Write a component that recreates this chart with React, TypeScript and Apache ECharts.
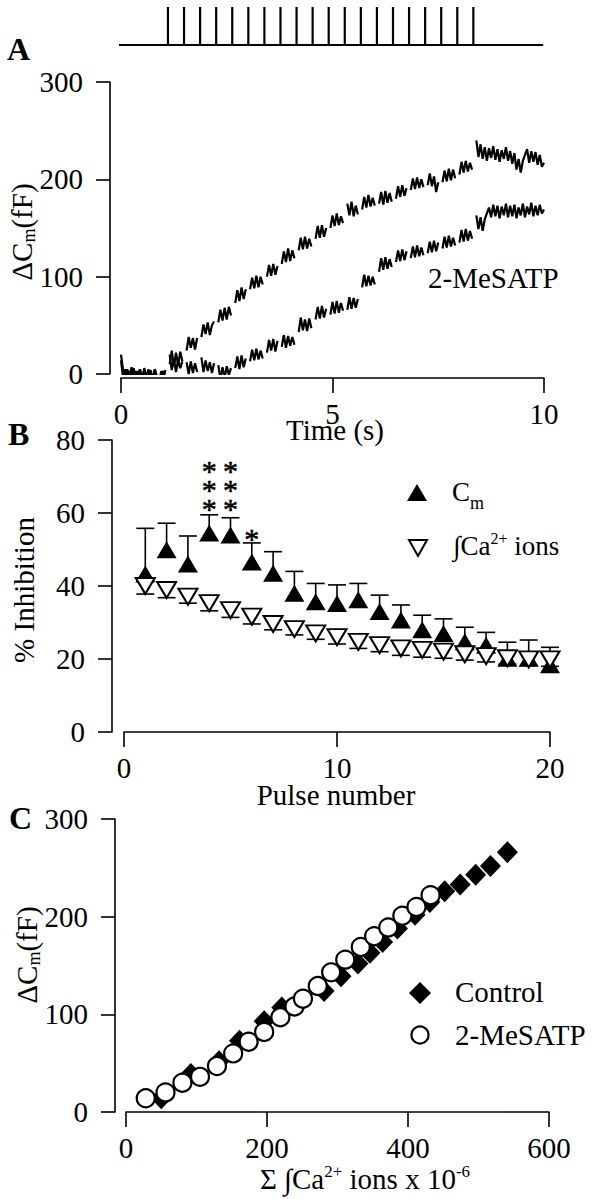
import React, { useEffect, useRef } from "react";
import * as echarts from "echarts";

const FONT = '"Liberation Serif", "Times New Roman", "DejaVu Serif", serif';

// ---------- Panel A: stimulus train and capacitance traces ----------
const pulseTimes = [1.11, 1.49, 1.87, 2.25, 2.63, 3.01, 3.39, 3.77, 4.15, 4.53, 4.91, 5.29, 5.67, 6.05, 6.43, 6.81, 7.19, 7.57, 7.95, 8.33];
const pulseBaseStart = -0.07;
const pulseBaseEnd = 9.98;
const TRACE_DT = 0.05; // sampling step (s) of the traces below

// Control trace (upper), fF, one value per 0.05 s, null = gap during pulse
const controlTrace: (number | null)[] = [
  20, 4, -6, 5, -5, 7, -3, 3, -7, 5,
  -5, 6, -2, -8, 4, -6, 5, -3, -9, 3,
  -6, 4, null, 10, 24, 8, 22, 9, 23, 13,
  null, 24, 38, 27, 37, 25, 37, null, 38, 51,
  41, 53, 40, 50, 54, null, 53, 66, 55, 68,
  56, 69, 60, null, 73, 86, 75, 89, 77, 87,
  null, 87, 99, 88, 101, 89, 100, 92, null, 100,
  112, 101, 113, 102, 111, null, 113, 126, 115, 129,
  116, 127, 119, null, 127, 140, 128, 141, 129, 139,
  131, null, 139, 152, 140, 153, 141, 150, null, 150,
  163, 152, 165, 153, 162, 155, null, 175, 163, 177,
  162, 173, 164, null, 169, 182, 171, 184, 172, 181,
  173, null, 175, 187, 174, 188, 176, 186, 177, null,
  180, 193, 182, 194, 183, 191, null, 189, 201, 190,
  202, 191, 200, 192, null, 194, 206, 193, 203, 187,
  197, null, 197, 209, 198, 211, 199, 210, 201, null,
  205, 218, 207, 219, 208, 217, 210, null, 240, 223,
  236, 221, 233, 219, 232, 222, 234, 220, 231, 218,
  230, 221, 233, 219, 229, 216, 227, 210, 221, 207,
  219, 225, 231, 217, 229, 218, 228, 215, 225, 213,
  217,
];

// 2-MeSATP trace (lower)
const mesatpTrace: (number | null)[] = [
  14, -4, 5, -7, 3, -5, 6, -8, 2, 4,
  -7, 3, -4, 5, -8, -3, 4, -6, -10, 0,
  3, -7, null, 20, 4, 16, 2, 14, 6, 13,
  null, 12, 0, 13, 1, 11, 2, null, 17, 2,
  14, 3, 12, 1, 11, null, 9, -5, 7, -4,
  8, -1, 6, null, 6, 18, 5, 19, 7, 16,
  null, 13, 25, 14, 26, 15, 24, 16, null, 22,
  35, 24, 36, 23, 34, null, 28, 40, 27, 39,
  29, 38, 30, null, 43, 58, 45, 56, 44, 57,
  47, null, 56, 69, 57, 70, 58, 67, null, 61,
  74, 62, 75, 63, 73, 65, null, 66, 79, 67,
  78, 68, 77, null, 89, 102, 90, 101, 91, 100,
  92, null, 105, 119, 107, 120, 108, 118, 110, null,
  115, 127, 116, 128, 117, 126, null, 119, 131, 120,
  132, 121, 130, 122, null, 124, 136, 125, 137, 126,
  135, null, 129, 141, 130, 142, 131, 140, 132, null,
  135, 148, 136, 149, 137, 147, 139, null, 163, 149,
  161, 147, 159, 165, 171, 161, 174, 162, 173, 160,
  172, 163, 175, 161, 173, 162, 174, 160, 171, 163,
  175, 161, 172, 164, 176, 162, 173, 163, 174, 165,
  169,
];

// ---------- Panel B: % inhibition per pulse ----------
const pulseNumbers = [1, 2, 3, 4, 5, 6, 7, 8, 9, 10, 11, 12, 13, 14, 15, 16, 17, 18, 19, 20];
const cmInhibition = [43.3, 49.9, 46, 54.5, 54, 46.6, 43.5, 38, 35.7, 35.2, 36.2, 33, 30.7, 28, 27, 24.7, 23.8, 20.2, 20.2, 18.4];
const cmUpperErr = [55.8, 57.2, 53.7, 59.5, 58.7, 51.8, 49.4, 44, 40.7, 40.3, 40.7, 37.5, 34.8, 32, 31, 28.7, 27.3, 24.6, 25.2, 23.2];
const caInhibition = [40, 38.9, 37.1, 35.3, 33.4, 31.6, 29.6, 28.2, 27, 26, 24.7, 23.8, 22.9, 22.5, 22, 21.3, 20.8, 20.2, 19.9, 19.9];
const caLowerErr = [37.8, 36.8, 35.3, 33.2, 31.4, 29.6, 28, 26.6, 25.4, 24.1, 22.9, 22, 21, 20.5, 20.2, 19.7, 19.2, 18.6, 18.2, 18];
// significance marks: pulse, centre level of the stack, number of asterisks
const starPulse = [4, 5, 6];
const starCentre = [67.7, 67.7, 54.5];
const starCount = [3, 3, 1];

// ---------- Panel C: dCm vs cumulative Ca2+ ions ----------
const controlCa = [50, 92, 132, 161, 196, 221, 250, 281, 305, 329, 346, 364, 385, 410, 431, 452, 474, 496, 517, 541];
const controlCm = [14, 39, 52, 73, 93, 107, 115, 124, 139, 152, 163, 174, 188, 202, 215, 226, 233, 243, 252, 266];
const mesatpCa = [28, 56, 80, 105, 129, 152, 174, 196, 219, 239, 251, 272, 291, 311, 333, 352, 372, 392, 412, 432];
const mesatpCm = [14, 20, 30, 36, 47, 60, 72, 82, 97, 108, 116, 129, 143, 156, 169, 180, 189, 201, 210, 222];

const BLACK = "#000";

function axisX(gridIndex: number, min: number, max: number, interval: number, offset: number) {
  return {
    type: "value",
    gridIndex,
    min,
    max,
    interval,
    offset,
    axisLine: { onZero: false, lineStyle: { color: BLACK, width: 1.6 } },
    axisTick: { inside: false, length: 15, lineStyle: { color: BLACK, width: 1.6 } },
    axisLabel: { margin: 21, color: BLACK, fontFamily: FONT, fontSize: 29 },
    splitLine: { show: false },
  };
}

function axisY(gridIndex: number, min: number, max: number, interval: number, offset: number) {
  return {
    type: "value",
    gridIndex,
    min,
    max,
    interval,
    offset,
    axisLine: { onZero: false, lineStyle: { color: BLACK, width: 1.6 } },
    axisTick: { inside: false, length: 14, lineStyle: { color: BLACK, width: 1.6 } },
    axisLabel: { margin: 27, color: BLACK, fontFamily: FONT, fontSize: 29, padding: [0, 0, 9, 0] },
    splitLine: { show: false },
  };
}

function text(x: number, y: number, str: string, o: any = {}) {
  const size = o.size ?? 29;
  const align = o.align ?? "center";
  return {
    type: "text",
    x,
    y,
    rotation: o.rotation ?? 0,
    z: 100,
    style: {
      text: str,
      fill: BLACK,
      fontSize: size,
      fontFamily: FONT,
      fontWeight: o.bold ? "bold" : "normal",
      align,
      textAlign: align,
      verticalAlign: "middle",
      textVerticalAlign: "middle",
      rich: o.rich,
    },
  };
}

const mainTok = (size: number, lh: number) => ({ fontSize: size, fontFamily: FONT, fill: BLACK, color: BLACK, lineHeight: lh });
const subTok = (size: number, lh: number) => ({ fontSize: size, fontFamily: FONT, fill: BLACK, color: BLACK, lineHeight: lh, verticalAlign: "bottom" });
const supTok = (size: number, lh: number) => ({ fontSize: size, fontFamily: FONT, fill: BLACK, color: BLACK, lineHeight: lh, verticalAlign: "top" });

function errBarItem() {
  return (params: any, api: any) => {
    const x = api.value(0);
    const p0 = api.coord([x, api.value(1)]);
    const p1 = api.coord([x, api.value(2)]);
    const half = 9;
    return {
      type: "group",
      children: [
        { type: "line", shape: { x1: p0[0], y1: p0[1], x2: p1[0], y2: p1[1] }, style: { stroke: BLACK, lineWidth: 1.6 } },
        { type: "line", shape: { x1: p1[0] - half, y1: p1[1], x2: p1[0] + half, y2: p1[1] }, style: { stroke: BLACK, lineWidth: 1.6 } },
      ],
    };
  };
}

function starItem(params: any, api: any) {
  const p = api.coord([api.value(0), api.value(1)]);
  const n = api.value(2);
  const marks: string[] = [];
  for (let k = 0; k < n; k++) marks.push("*");
  return {
    type: "text",
    x: p[0],
    y: p[1] + 5,
    style: {
      text: marks.join("\n"),
      fill: BLACK,
      stroke: BLACK,
      lineWidth: 0.6,
      fontSize: 30,
      fontFamily: FONT,
      lineHeight: 19,
      align: "center",
      verticalAlign: "middle",
    },
  };
}

function buildOption() {
  const pulseData: number[][] = [[pulseBaseStart, 0]];
  pulseTimes.forEach((t) => {
    pulseData.push([t, 0], [t, 1], [t, 0]);
  });
  pulseData.push([pulseBaseEnd, 0]);

  const traceData = (arr: (number | null)[]) => arr.map((v, i) => [Math.round(i * TRACE_DT * 100) / 100, v]);

  const dCmRich = { m: mainTok(29, 32), s: subTok(18, 18) };

  return {
    animation: false,
    backgroundColor: "#fff",
    grid: [
      { left: 121, right: 50, top: 7, height: 38 },
      { left: 121, right: 50, top: 82, height: 292 },
      { left: 124, right: 44, top: 440, height: 292 },
      { left: 126, right: 45, top: 819, height: 293 },
    ],
    xAxis: [
      { type: "value", gridIndex: 0, min: 0, max: 10, show: false },
      axisX(1, 0, 10, 5, 4),
      axisX(2, 0, 20, 10, 0),
      axisX(3, 0, 600, 200, 0),
    ],
    yAxis: [
      { type: "value", gridIndex: 0, min: 0, max: 1, show: false },
      axisY(1, 0, 300, 100, 11),
      axisY(2, 0, 80, 20, 12),
      axisY(3, 0, 300, 100, 11),
    ],
    series: [
      {
        name: "stimulus",
        type: "line",
        xAxisIndex: 0,
        yAxisIndex: 0,
        data: pulseData,
        symbol: "none",
        clip: false,
        lineStyle: { color: BLACK, width: 2.2 },
      },
      {
        name: "Control trace",
        type: "line",
        xAxisIndex: 1,
        yAxisIndex: 1,
        data: traceData(controlTrace),
        symbol: "none",
        connectNulls: false,
        lineStyle: { color: BLACK, width: 2.2 },
      },
      {
        name: "2-MeSATP trace",
        type: "line",
        xAxisIndex: 1,
        yAxisIndex: 1,
        data: traceData(mesatpTrace),
        symbol: "none",
        connectNulls: false,
        lineStyle: { color: BLACK, width: 2.2 },
      },
      {
        name: "Cm err",
        type: "custom",
        xAxisIndex: 2,
        yAxisIndex: 2,
        data: pulseNumbers.map((p, i) => [p, cmInhibition[i], cmUpperErr[i]]),
        encode: { x: 0, y: [1, 2] },
        renderItem: errBarItem(),
        z: 2,
      },
      {
        name: "Ca err",
        type: "custom",
        xAxisIndex: 2,
        yAxisIndex: 2,
        data: pulseNumbers.map((p, i) => [p, caInhibition[i], caLowerErr[i]]),
        encode: { x: 0, y: [1, 2] },
        renderItem: errBarItem(),
        z: 2,
      },
      {
        name: "Cm",
        type: "scatter",
        xAxisIndex: 2,
        yAxisIndex: 2,
        data: pulseNumbers.map((p, i) => [p, cmInhibition[i]]),
        symbol: "triangle",
        symbolSize: [20, 17],
        itemStyle: { color: BLACK, opacity: 1 },
        z: 3,
      },
      {
        name: "Ca ions",
        type: "scatter",
        xAxisIndex: 2,
        yAxisIndex: 2,
        data: pulseNumbers.map((p, i) => [p, caInhibition[i]]),
        symbol: "triangle",
        symbolRotate: 180,
        symbolSize: [19, 16],
        itemStyle: { color: "#fff", borderColor: BLACK, borderWidth: 2, opacity: 1 },
        z: 4,
      },
      {
        name: "significance",
        type: "custom",
        xAxisIndex: 2,
        yAxisIndex: 2,
        data: starPulse.map((p, i) => [p, starCentre[i], starCount[i]]),
        encode: { x: 0, y: 1 },
        renderItem: starItem,
        z: 5,
      },
      {
        name: "Control",
        type: "scatter",
        xAxisIndex: 3,
        yAxisIndex: 3,
        data: controlCa.map((x, i) => [x, controlCm[i]]),
        symbol: "diamond",
        symbolSize: [21, 22],
        itemStyle: { color: BLACK, opacity: 1 },
        z: 3,
      },
      {
        name: "2-MeSATP",
        type: "scatter",
        xAxisIndex: 3,
        yAxisIndex: 3,
        data: mesatpCa.map((x, i) => [x, mesatpCm[i]]),
        symbol: "circle",
        symbolSize: 18,
        itemStyle: { color: "#fff", borderColor: BLACK, borderWidth: 2.2, opacity: 1 },
        z: 4,
      },
    ],
    graphic: [
      // panel letters
      text(7, 49, "A", { size: 32, bold: true, align: "left" }),
      text(8, 434, "B", { size: 32, bold: true, align: "left" }),
      text(9, 818, "C", { size: 32, bold: true, align: "left" }),
      // panel A
      text(22, 232, "{m|ΔC}{s|m}{m|(fF)}", { rotation: Math.PI / 2, rich: dCmRich }),
      text(335, 430, "Time (s)"),
      text(428, 278, "2-MeSATP", { align: "left" }),
      // panel B
      text(24, 590, "% Inhibition", { rotation: Math.PI / 2 }),
      text(336, 795, "Pulse number"),
      { type: "polygon", z: 100, shape: { points: [[417, 484], [427, 501], [407, 501]] }, style: { fill: BLACK } },
      text(452, 492, "{m|C}{s|m}", { align: "left", rich: { m: mainTok(27, 40), s: subTok(18, 14) } }),
      { type: "polygon", z: 100, shape: { points: [[409, 540], [427, 540], [418, 556]] }, style: { fill: "#fff", stroke: BLACK, lineWidth: 2 } },
      text(453, 546, "{m|∫Ca}{p|2+}{m| ions}", { align: "left", rich: { m: mainTok(27, 32), p: supTok(16, 20) } }),
      // panel C
      text(27, 955, "{m|ΔC}{s|m}{m|(fF)}", { rotation: Math.PI / 2, rich: dCmRich }),
      text(365, 1179, "{m|Σ ∫Ca}{p|2+}{m| ions x 10}{p|-6}", { rich: { m: mainTok(29, 32), p: supTok(17, 20) } }),
      { type: "polygon", z: 100, shape: { points: [[420, 982], [431, 993], [420, 1004], [409, 993]] }, style: { fill: BLACK } },
      text(455, 992, "Control", { align: "left" }),
      { type: "circle", z: 100, shape: { cx: 420, cy: 1035, r: 8.5 }, style: { fill: "#fff", stroke: BLACK, lineWidth: 2.2 } },
      text(455, 1035, "2-MeSATP", { align: "left" }),
    ],
  };
}

export default function App() {
  const ref = useRef<HTMLDivElement>(null);
  useEffect(() => {
    if (!ref.current) return;
    const chart = echarts.init(ref.current, null, { renderer: "svg" });
    chart.setOption(buildOption() as any);
    return () => chart.dispose();
  }, []);
  return (
    <div
      ref={ref}
      style={{ position: "fixed", left: 0, top: 0, width: 594, height: 1199, background: "#fff" }}
    />
  );
}
